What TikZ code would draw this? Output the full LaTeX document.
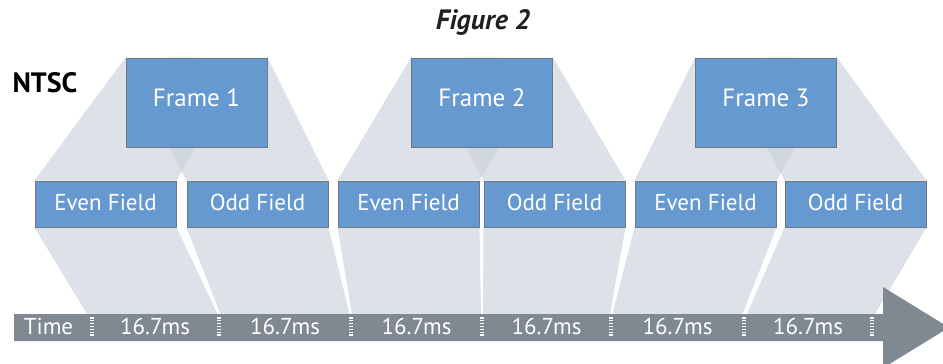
\documentclass[tikz,border=0pt]{standalone}
\usepackage{fontspec}
\setmainfont{PT Sans}
\usetikzlibrary{calc}
\pgfdeclarelayer{background}
\pgfsetlayers{background,main}
\definecolor{boxblue}{RGB}{102,153,207}
\definecolor{boxedge}{RGB}{112,120,128}
\definecolor{fan}{RGB}{201,210,218}
\definecolor{barcol}{RGB}{128,136,145}
\definecolor{titlecol}{RGB}{35,31,32}
\begin{document}
\begin{tikzpicture}[x=1pt,y=-1pt,
  framebox/.style={draw=boxedge, line width=1pt, fill=boxblue, text=white,
    minimum width=141pt, minimum height=89pt, inner sep=0pt,
    font=\fontsize{25}{30}\selectfont, text height=18pt, text depth=10pt},
  fieldbox/.style={draw=boxedge, line width=1pt, fill=boxblue, text=white,
    minimum width=141pt, minimum height=46pt, inner sep=0pt,
    font=\fontsize{23}{28}\selectfont, text height=20pt, text depth=6.6pt},
  fanshape/.style={fill=fan, fill opacity=0.65},
  tickmark/.style={draw=white, line width=3.5pt, dash pattern=on 1.5pt off 1.4pt},
  bartext/.style={text=white, anchor=base, inner sep=0pt, font=\fontsize{23}{28}\selectfont}
]
\useasboundingbox (0,0) rectangle (943,364);

% frames and fields
\node[framebox] (f1) at (196.5,102.5) {Frame 1};
\node[framebox] (f2) at (482,102.5) {Frame 2};
\node[framebox] (f3) at (766,102.5) {Frame 3};
\node[fieldbox] (e1) at (105.5,204) {Even Field};
\node[fieldbox] (o1) at (257.5,204) {Odd Field};
\node[fieldbox] (e2) at (408.5,204) {Even Field};
\node[fieldbox] (o2) at (554.5,204) {Odd Field};
\node[fieldbox] (e3) at (705.5,204) {Even Field};
\node[fieldbox] (o3) at (855.5,204) {Odd Field};

% tick coordinates on top of the time bar
\coordinate (t0) at (92,314);
\coordinate (t1) at (219,314);
\coordinate (t2) at (351,314);
\coordinate (t3) at (482,314);
\coordinate (t4) at (611,314);
\coordinate (t5) at (744,314);
\coordinate (t6) at (872,314);

% fans behind the boxes
\begin{pgfonlayer}{background}
\foreach \f/\e/\o in {f1/e1/o1, f2/e2/o2, f3/e3/o3}{
  \coordinate (pa) at ($(\e.north east)+(20,-34)$);
  \coordinate (pb) at ($(\o.north west)+(-18,-34)$);
  \fill[fanshape] (\f.north west) -- (\f.north west -| pa) -- (pa) -- (\e.north east) -- (\e.north west) -- cycle;
  \fill[fanshape] (\f.north east) -- (\f.north east -| pb) -- (pb) -- (\o.north west) -- (\o.north east) -- cycle;
}
\fill[fanshape] (e1.south west) -- (e1.south east) -- ($(t1)+(-1.5,0)$) -- ($(t0)+(-5,0)$) -- cycle;
\fill[fanshape] (o1.south west) -- (o1.south east) -- ($(t2)+(-1.5,0)$) -- ($(t1)+(1.5,0)$) -- cycle;
\fill[fanshape] (e2.south west) -- (e2.south east) -- ($(t3)+(-1,0)$) -- ($(t2)+(1,0)$) -- cycle;
\fill[fanshape] (o2.south west) -- (o2.south east) -- ($(t4)+(-1,0)$) -- ($(t3)+(1,0)$) -- cycle;
\fill[fanshape] (e3.south west) -- (e3.south east) -- ($(t5)+(-1.5,0)$) -- ($(t4)+(1.5,0)$) -- cycle;
\fill[fanshape] (o3.south west) -- (o3.south east) -- ($(t6)+(3,0)$) -- ($(t5)+(3,0)$) -- cycle;
\end{pgfonlayer}

% time bar with arrow head
\fill[barcol] (14,314) -- (883,314) -- (883,287) -- (949,327.5) -- (883,368) -- (883,341) -- (14,341) -- cycle;
\foreach \t in {t0,t1,t2,t3,t4,t5,t6}{
  \draw[tickmark] ($(\t)+(0,3)$) -- ($(\t)+(0,23)$);
}
\node[bartext] (time) at (48.5,334) {Time};
\node[bartext] (s1) at (155,334) {16.7ms};
\node[bartext] (s2) at (285,334) {16.7ms};
\node[bartext] (s3) at (416.5,334) {16.7ms};
\node[bartext] (s4) at (546.5,334) {16.7ms};
\node[bartext] (s5) at (677.5,334) {16.7ms};
\node[bartext] (s6) at (808,334) {16.7ms};

% titles
\node[anchor=base, inner sep=0pt, text=titlecol, font=\fontsize{28}{32}\selectfont\bfseries\itshape] (title) at (483,29) {Figure 2};
\node[anchor=base, inner sep=0pt, text=black, font=\fontsize{28}{32}\selectfont\bfseries] (ntsc) at (45,92) {NTSC};
\end{tikzpicture}
\end{document}
